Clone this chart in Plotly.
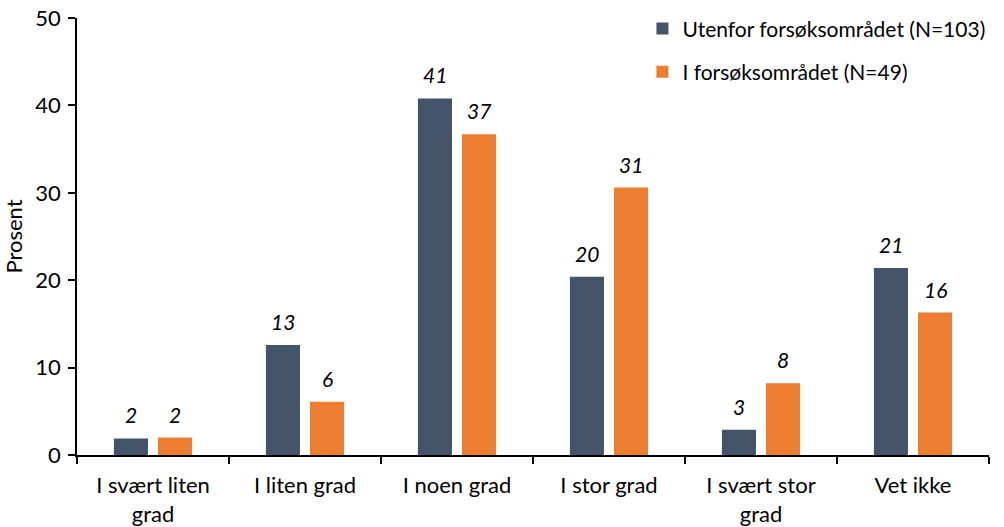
import plotly.graph_objects as go

categories = ["I svært liten<br>grad", "I liten grad", "I noen grad", "I stor grad", "I svært stor<br>grad", "Vet ikke"]
series_names = ["Utenfor forsøksområdet (N=103)", "I forsøksområdet (N=49)"]
utenfor = [1.9, 12.6, 40.8, 20.4, 2.9, 21.4]
i_fors = [2.0, 6.1, 36.7, 30.6, 8.2, 16.3]
colors = ["#44546A", "#ED7D31"]
y_ticks = [0, 10, 20, 30, 40, 50]

FONT = "Lato, Carlito, Calibri, sans-serif"

fig = go.Figure()
for i, (name, vals, col) in enumerate(zip(series_names, [utenfor, i_fors], colors)):
    fig.add_trace(go.Bar(x=categories, y=vals, name=name, legendgroup=f"g{i}",
                         marker=dict(color=col, line=dict(width=0))))

for vals, shift in [(utenfor, -22), (i_fors, 22)]:
    for c, v in zip(categories, vals):
        fig.add_annotation(x=c, y=v, text=f"<i>{round(v):.0f}</i>", showarrow=False,
                           xshift=shift, yshift=9, yanchor="bottom",
                           font=dict(family=FONT, size=21, color="#000"))

fig.update_layout(
    width=1004, height=527,
    margin=dict(l=77, r=15, t=18, b=72, autoexpand=False),
    paper_bgcolor="white", plot_bgcolor="white",
    barmode="group", bargap=0.42, bargroupgap=0.227,
    font=dict(family=FONT, size=22, color="#000"),
    legend=dict(x=0.62, y=1.022, xanchor="left", yanchor="top", font=dict(size=21),
                itemsizing="constant", tracegroupgap=13, traceorder="grouped",
                bgcolor="rgba(0,0,0,0)"),
    showlegend=True,
)
fig.update_xaxes(showline=True, linecolor="#000", linewidth=1.5, ticks="outside", tickson="boundaries",
                 ticklen=7, tickcolor="#000", tickwidth=1.5, showgrid=False, tickfont=dict(size=22),
                 automargin=False, ticklabelstandoff=10, ticklabeloverflow="allow")
fig.update_yaxes(range=[0, 50], tickvals=y_ticks, showline=True, linecolor="#000", linewidth=1.5,
                 ticks="outside", ticklen=7, tickcolor="#000", tickwidth=1.5, showgrid=False,
                 zeroline=False, tickfont=dict(size=22), automargin=False, ticklabelstandoff=3,
                 ticklabeloverflow="allow",
                 title=dict(text="Prosent", font=dict(size=22), standoff=7))

fig.write_html("out.html", config={"displayModeBar": False},
               post_script="document.body.style.margin='0';document.body.style.overflow='hidden';")
